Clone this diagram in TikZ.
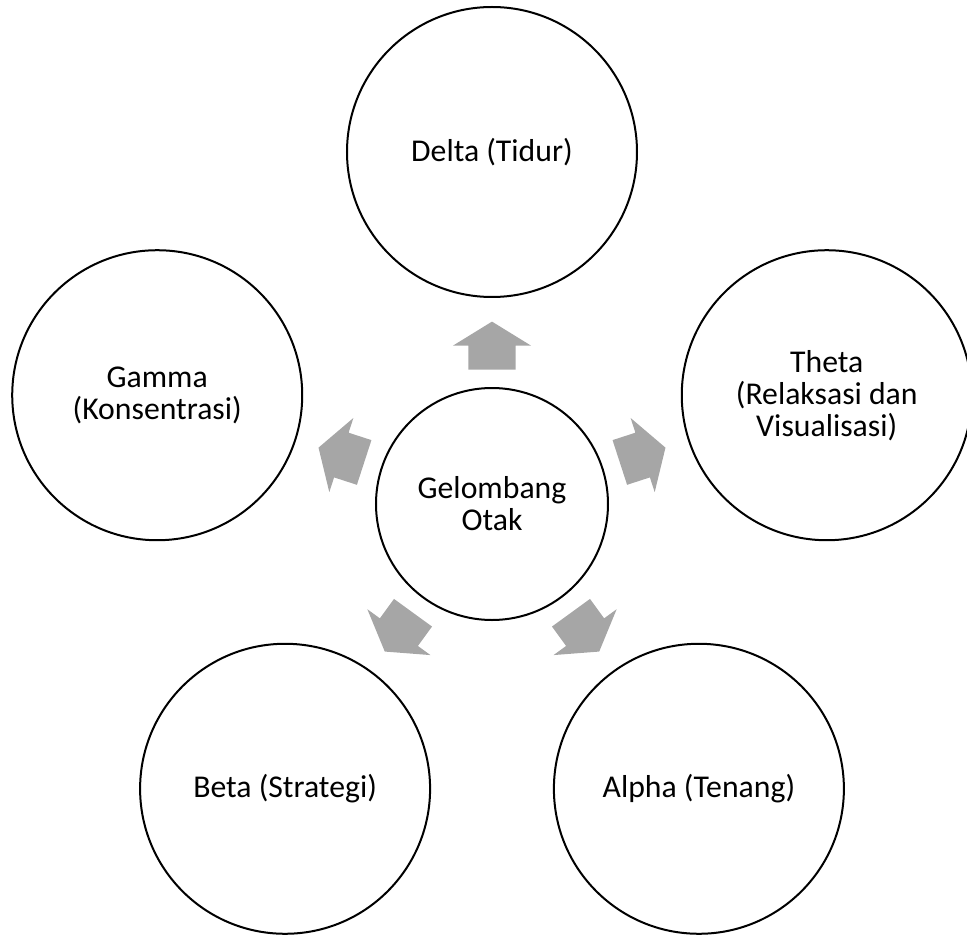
\documentclass[tikz,border=0pt]{standalone}
\usepackage{fontspec}
\setmainfont{Carlito}
\usetikzlibrary{calc}
\definecolor{arrowgray}{RGB}{166,166,166}

\begin{document}
\begin{tikzpicture}[x=0.75pt,y=0.75pt,
    wave/.style={circle,draw,line width=1.5pt,minimum size=217.5pt,inner sep=0pt,
      align=center,font=\fontsize{23.8}{24}\selectfont},
    core/.style={wave,minimum size=174pt}]

  \useasboundingbox (-492,-435) rectangle (475,504);

  \node (core) [core] {Gelombang\\Otak};

  \node (delta) [wave] at (90:352) {Delta (Tidur)};
  \node (theta) [wave] at (18:352) {Theta\\(Relaksasi dan\\Visualisasi)};
  \node (alpha) [wave] at (-54:352) {Alpha (Tenang)};
  \node (beta) [wave] at (-126:352) {Beta (Strategi)};
  \node (gamma) [wave] at (162:352) {Gamma\\(Konsentrasi)};

  % block arrows from the core outwards
  \foreach \ang/\target in {90/delta,18/theta,-54/alpha,-126/beta,162/gamma} {
    \begin{scope}[shift={($(core)!0.45!(\target)$)},rotate=\ang]
      \fill[arrowgray] (-24,-23.5) -- (0,-23.5) -- (0,-39) -- (24,0)
        -- (0,39) -- (0,23.5) -- (-24,23.5) -- cycle;
    \end{scope}
  }

\end{tikzpicture}
\end{document}
